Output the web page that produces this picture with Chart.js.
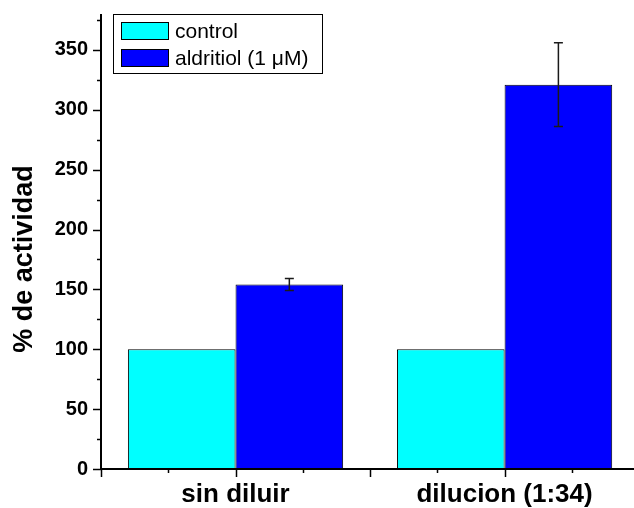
<!DOCTYPE html>
<html><head><meta charset="utf-8">
<script src="https://cdn.jsdelivr.net/npm/chart.js@4.4.0/dist/chart.umd.min.js"></script>
<style>html,body{margin:0;padding:0;background:#fff;} #wrap{width:634px;height:508px;position:relative;}</style>
</head><body><div id="wrap"><canvas id="c" width="634" height="508"></canvas></div>
<script>
const categories = ['sin diluir', 'dilucion (1:34)'];
const categoryPositions = [1, 2];
const seriesNames = ['control', 'aldritiol (1 \u03bcM)'];
const controlValues = [100, 100];
const aldritiolValues = [154, 321];
const aldritiolErrors = [5, 35];
const yTicks = [0, 50, 100, 150, 200, 250, 300, 350];
const yTitle = '% de actividad';

const FONT = '"Liberation Sans", Arial, Helvetica, sans-serif';
const colors = ['#00FFFF', '#0000FF'];

const decor = {
  id: 'decor',
  afterDatasetsDraw(chart) {
    const ctx = chart.ctx, ys = chart.scales.y;
    const meta = chart.getDatasetMeta(1);
    ctx.save();
    ctx.strokeStyle = '#1a1a1a';
    ctx.lineWidth = 1.5;
    aldritiolValues.forEach((v, i) => {
      const x = meta.data[i].x;
      const yt = ys.getPixelForValue(v + aldritiolErrors[i]);
      const yb = ys.getPixelForValue(v - aldritiolErrors[i]);
      ctx.beginPath();
      ctx.moveTo(x, yt); ctx.lineTo(x, yb);
      ctx.moveTo(x - 4.5, yt); ctx.lineTo(x + 4.5, yt);
      ctx.moveTo(x - 4.5, yb); ctx.lineTo(x + 4.5, yb);
      ctx.stroke();
    });
    ctx.restore();
  },
  afterDraw(chart) {
    const ctx = chart.ctx, xs = chart.scales.x, ys = chart.scales.y, ca = chart.chartArea;
    ctx.save();
    ctx.strokeStyle = '#000';
    ctx.lineWidth = 1.5;
    for (let v = 0; v <= ys.max + 1e-9; v += 25) {
      const y = Math.round(ys.getPixelForValue(v)) + 0.5;
      const len = (v % 50 === 0) ? 8 : 4;
      ctx.beginPath(); ctx.moveTo(ca.left - len, y); ctx.lineTo(ca.left, y); ctx.stroke();
    }
    for (let v = 0.5; v <= xs.max + 1e-9; v += 0.25) {
      const x = Math.round(xs.getPixelForValue(v)) + 0.5;
      const len = (Math.abs(v * 2 - Math.round(v * 2)) < 1e-6) ? 8 : 4;
      ctx.beginPath(); ctx.moveTo(x, ca.bottom); ctx.lineTo(x, ca.bottom + len); ctx.stroke();
    }
    ctx.lineWidth = 2;
    ctx.beginPath();
    ctx.moveTo(ca.left, ca.top); ctx.lineTo(ca.left, ca.bottom + 1);
    ctx.moveTo(ca.left - 1, ca.bottom); ctx.lineTo(ca.right, ca.bottom);
    ctx.stroke();

    // legend
    const bx = ca.left + 12, by = ca.top, bw = 209, bh = 59;
    ctx.lineWidth = 1;
    ctx.strokeStyle = '#000';
    ctx.strokeRect(bx + 0.5, by + 0.5, bw, bh);
    ctx.font = '21px ' + FONT;
    ctx.textBaseline = 'middle';
    ctx.textAlign = 'left';
    seriesNames.forEach((name, i) => {
      const sy = by + 8 + i * 27;
      ctx.fillStyle = colors[i];
      ctx.fillRect(bx + 8, sy, 48, 18);
      ctx.strokeRect(bx + 8.5, sy + 0.5, 47, 17);
      ctx.fillStyle = '#000';
      ctx.fillText(name, bx + 62, sy + 10);
    });

    // y title
    ctx.save();
    ctx.translate(25, 259);
    ctx.rotate(-Math.PI / 2);
    ctx.font = 'bold 27px ' + FONT;
    ctx.textAlign = 'center';
    ctx.textBaseline = 'middle';
    ctx.fillStyle = '#000';
    ctx.fillText(yTitle, 0, 0);
    ctx.restore();
    ctx.restore();
  }
};

new Chart(document.getElementById('c'), {
  type: 'bar',
  data: {
    datasets: [
      { label: seriesNames[0], data: categoryPositions.map((x, i) => ({ x, y: controlValues[i] })),
        backgroundColor: colors[0], borderColor: '#000', borderWidth: 1, borderSkipped: 'bottom' },
      { label: seriesNames[1], data: categoryPositions.map((x, i) => ({ x, y: aldritiolValues[i] })),
        backgroundColor: colors[1], borderColor: '#000', borderWidth: 1, borderSkipped: 'bottom' }
    ]
  },
  plugins: [decor],
  options: {
    responsive: false,
    devicePixelRatio: 1,
    animation: false,
    layout: { padding: { top: 14, right: 0, bottom: 0, left: 0 } },
    datasets: { bar: { categoryPercentage: 0.8, barPercentage: 1.0 } },
    plugins: { legend: { display: false }, tooltip: { enabled: false } },
    scales: {
      x: {
        type: 'linear', offset: false, min: 0.5, max: 2.481,
        grid: { display: false, drawTicks: false },
        border: { display: false },
        afterBuildTicks: s => { s.ticks = categoryPositions.map(v => ({ value: v })); },
        afterFit: s => { s.height = 39; s.paddingLeft = 0; s.paddingRight = 0; },
        ticks: {
          padding: 10, color: '#000', maxRotation: 0, autoSkip: false,
          font: { family: FONT, size: 26, weight: 'bold' },
          callback: v => { const i = categoryPositions.indexOf(v); return i >= 0 ? categories[i] : ''; }
        }
      },
      y: {
        min: 0, max: 380,
        grid: { display: false, drawTicks: false },
        border: { display: false },
        afterBuildTicks: s => { s.ticks = yTicks.map(v => ({ value: v })); },
        afterFit: s => { s.width = 101; s.paddingTop = 0; s.paddingBottom = 0; },
        ticks: { padding: 13, color: '#000', font: { family: FONT, size: 20, weight: 'bold' } }
      }
    }
  }
});
</script></body></html>
